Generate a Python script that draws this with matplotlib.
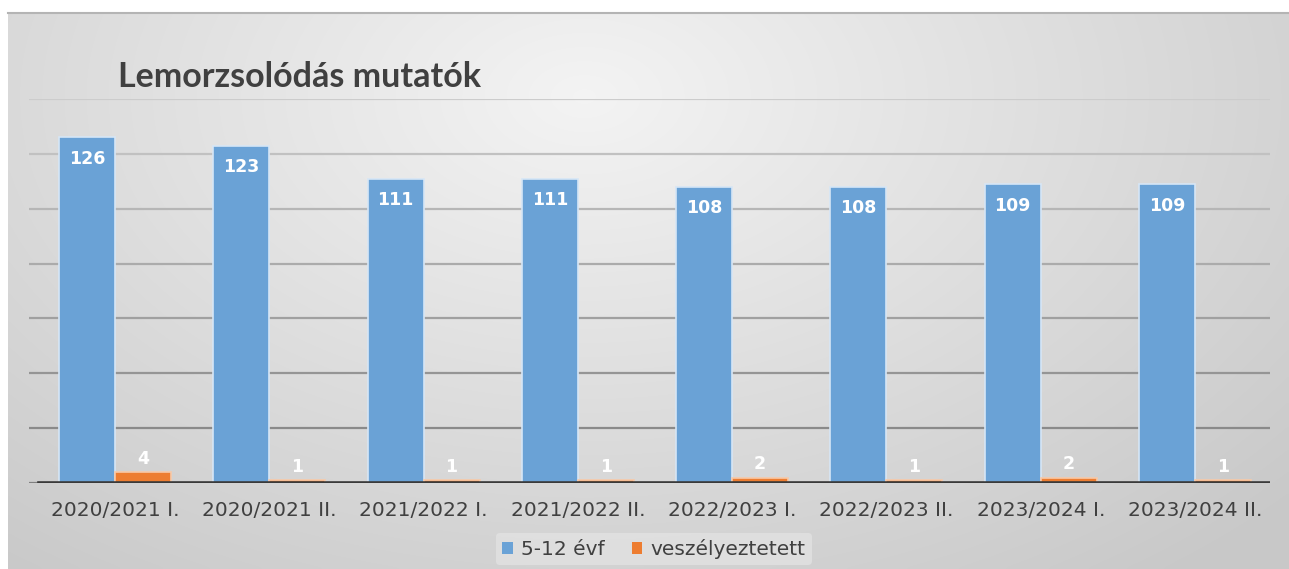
import numpy as np
import matplotlib
matplotlib.use("Agg")
import matplotlib.pyplot as plt
from matplotlib.patches import Patch

categories = ["2020/2021 I.", "2020/2021 II.", "2021/2022 I.", "2021/2022 II.",
              "2022/2023 I.", "2022/2023 II.", "2023/2024 I.", "2023/2024 II."]
evf_5_12 = [126, 123, 111, 111, 108, 108, 109, 109]
veszelyeztetett = [4, 1, 1, 1, 2, 1, 2, 1]
series_names = ["5-12 évf", "veszélyeztetett"]
title = "Lemorzsolódás mutatók"

W, H = 1289, 569
fig = plt.figure(figsize=(W / 100, H / 100), dpi=100)
fig.patch.set_facecolor("white")

# background radial gradient
bg = fig.add_axes([8 / W, 0, 1 - 8 / W, (H - 12) / H])
bg.set_axis_off()
gw, gh = 400, 180
xx, yy = np.meshgrid(np.linspace(0, 1, gw), np.linspace(0, 1, gh))
cx, cy = 0.45, 0.15
d = np.sqrt(((xx - cx) / 0.75) ** 2 + ((yy - cy) / 1.1) ** 2)
d = np.clip(d, 0, 1)
val = 0.955 - 0.17 * d
img = np.dstack([val, val, val])
bg.imshow(img, aspect="auto", extent=[0, 1, 1, 0], interpolation="bicubic")
bg.set_xlim(0, 1)
bg.set_ylim(1, 0)
# top border line
fig.add_artist(plt.Line2D([8 / W, 1], [(H - 12.5) / H] * 2, color="#b4b4b4", lw=1.5))

# main axes
left_px, right_px, top_px, bot_px = 29, 1270, 99, 483
ax = fig.add_axes([left_px / W, (H - bot_px) / H, (right_px - left_px) / W, (bot_px - top_px) / H])
ax.patch.set_alpha(0)
x = np.arange(len(categories))
unit = (1195 - 115) / 7.0
ax.set_xlim((left_px - 115) / unit, (right_px - 115) / unit)
ax.set_ylim(0, 140)
ax.set_yticks(np.arange(0, 141, 20))
ax.set_yticklabels([])
ax.tick_params(axis="y", length=0)
ax.tick_params(axis="x", length=0, pad=13)
for s in ax.spines.values():
    s.set_visible(False)
ax.grid(axis="y", lw=1.6)
ax.set_axisbelow(True)
glines = ax.yaxis.get_gridlines()
n = len(glines)
for i, gl in enumerate(glines):
    c = 0.50 + 0.30 * (i / (n - 1))
    gl.set_color((c, c, c))

bw = 56 / unit
off = 28 / unit
blue = "#6aa2d6"
orange = "#ed7d31"
b1 = ax.bar(x - off, evf_5_12, bw, color=blue, edgecolor="#d6e6f6", lw=1.2, zorder=3)
b2 = ax.bar(x + off, veszelyeztetett, bw, color=orange, edgecolor="#f7c9a8", lw=1.2, zorder=3)

ax.axhline(0, xmin=(39 - left_px) / (right_px - left_px), xmax=1, color="#3a3a3a", lw=2.6, zorder=4)

ax.bar_label(b1, labels=[str(v) for v in evf_5_12], label_type="edge", padding=-22,
             color="white", fontsize=12.5, fontweight="bold", family="DejaVu Sans", zorder=5)
ax.bar_label(b2, labels=[str(v) for v in veszelyeztetett], label_type="edge", padding=3,
             color="white", fontsize=12.5, fontweight="bold", family="DejaVu Sans", zorder=5)

ax.set_xticks(x)
ax.set_xticklabels(categories, fontsize=14.5, color="#404040", family="DejaVu Sans")

fig.text(118 / W, (H - 87) / H, title, fontsize=24.5, fontweight="bold", color="#404040",
         family="Lato", va="baseline", ha="left")

handles = [Patch(facecolor=blue), Patch(facecolor=orange)]
leg = fig.legend(handles, series_names, loc="center", bbox_to_anchor=(654 / W, (H - 549) / H),
                 ncol=2, frameon=True, handlelength=0.5, handleheight=0.5,
                 handletextpad=0.4, columnspacing=1.4, borderpad=0.3,
                 prop={"family": "DejaVu Sans", "size": 14.5})
leg.get_frame().set_facecolor("#e2e2e2")
leg.get_frame().set_edgecolor("none")
leg.get_frame().set_alpha(0.8)
for t in leg.get_texts():
    t.set_color("#404040")

fig.savefig("out.png", dpi=100, facecolor=fig.get_facecolor())
